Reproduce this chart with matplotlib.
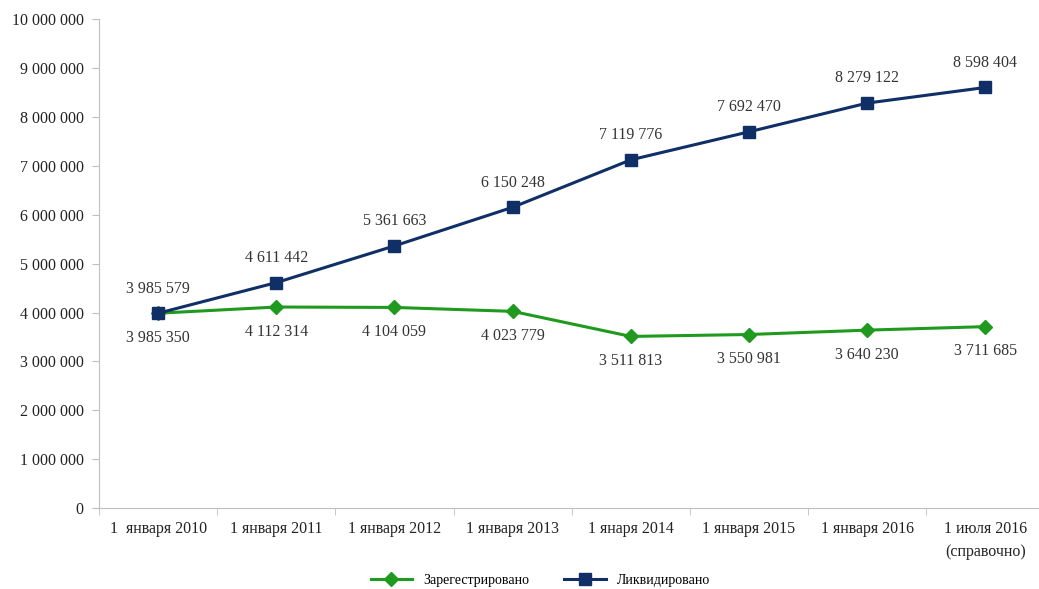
import matplotlib.pyplot as plt
from matplotlib.ticker import FuncFormatter, FixedLocator

plt.rcParams['font.family'] = ['Liberation Serif', 'DejaVu Serif']

categories = ["1  января 2010", "1 января 2011", "1 января 2012", "1 января 2013",
              "1 янаря 2014", "1 января 2015", "1 января 2016", "1 июля 2016\n(справочно)"]
registered = [3985350, 4112314, 4104059, 4023779, 3511813, 3550981, 3640230, 3711685]
liquidated = [3985579, 4611442, 5361663, 6150248, 7119776, 7692470, 8279122, 8598404]

GREEN = "#1f9a1f"
NAVY = "#0f2f66"
GREY = "#bfbfbf"

def fmt(v):
    return f"{int(v):,}".replace(",", " ")

fig = plt.figure(figsize=(10.39, 5.89), dpi=100)
ax = fig.add_axes([0.0953, 0.137, 0.91, 0.831])

x = list(range(len(categories)))
ax.plot(x, registered, color=GREEN, lw=2.2, marker="D", ms=7, label="Зарегестрировано", zorder=3)
ax.plot(x, liquidated, color=NAVY, lw=2.2, marker="s", ms=9, label="Ликвидировано", zorder=4)

for xi, v in zip(x, liquidated):
    ax.annotate(fmt(v), (xi, v), xytext=(0, 12), textcoords="offset points",
                ha="center", va="bottom", fontsize=11.5, color="#333333")
for xi, v in zip(x, registered):
    ax.annotate(fmt(v), (xi, v), xytext=(0, -12), textcoords="offset points",
                ha="center", va="top", fontsize=11.5, color="#333333")

ax.set_xlim(-0.5, len(categories) - 0.5)
ax.set_ylim(0, 10000000)
ax.set_yticks(range(0, 10000001, 1000000))
ax.yaxis.set_major_formatter(FuncFormatter(lambda v, p: fmt(v)))

ax.set_xticks(x)
ax.set_xticklabels(categories, linespacing=1.6)
ax.xaxis.set_minor_locator(FixedLocator([i + 0.5 for i in range(-1, len(categories))]))
ax.tick_params(axis="x", which="major", length=0, pad=9, labelsize=11.5, labelcolor="#222222")
ax.tick_params(axis="x", which="minor", length=5, color=GREY)
ax.tick_params(axis="y", length=5, color=GREY, labelsize=11.5, labelcolor="#222222", pad=6)

for side in ["top", "right"]:
    ax.spines[side].set_visible(False)
for side in ["left", "bottom"]:
    ax.spines[side].set_color(GREY)

ax.legend(loc="lower center", bbox_to_anchor=(0.52, -0.018), bbox_transform=fig.transFigure,
          ncol=2, frameon=False, fontsize=10, handlelength=3, columnspacing=2.5)

fig.savefig("out.png", dpi=100)
